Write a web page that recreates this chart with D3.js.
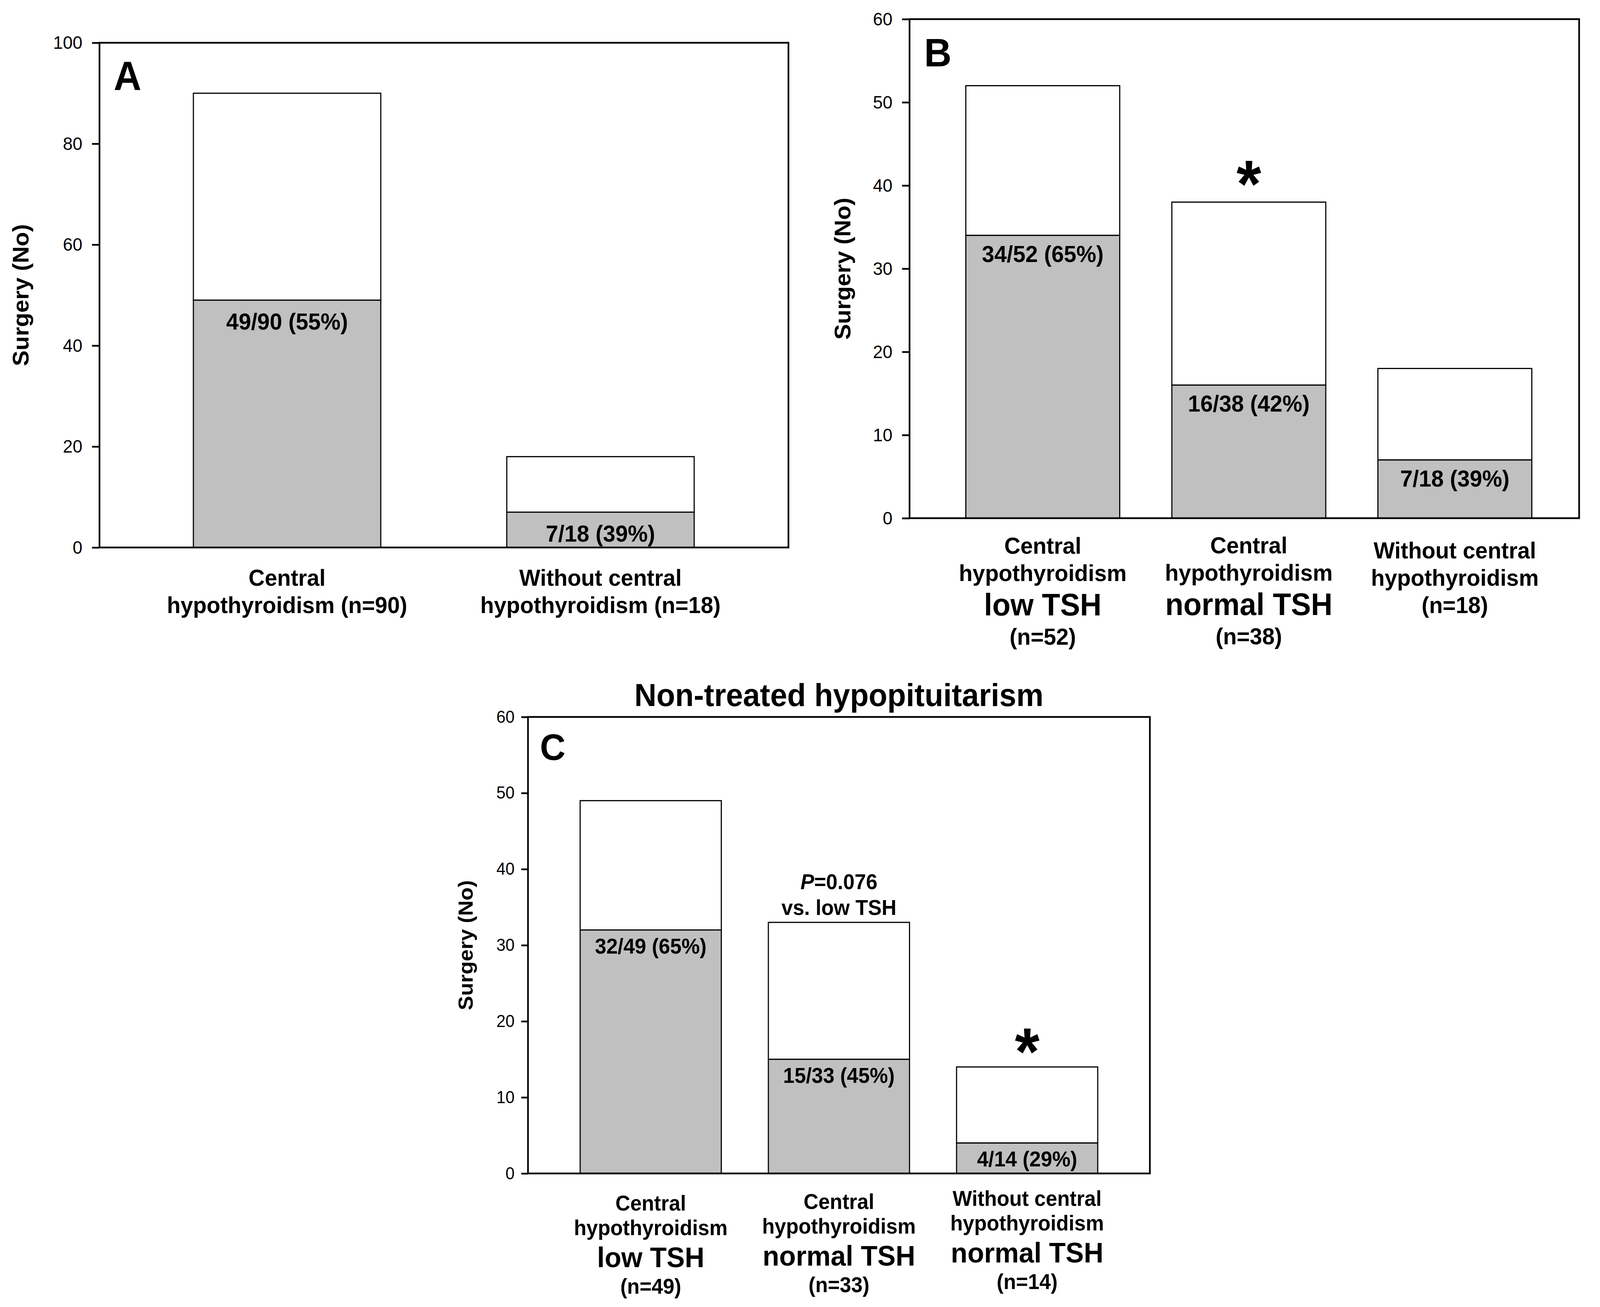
<!DOCTYPE html>
<html>
<head>
<meta charset="utf-8">
<script src="https://cdn.jsdelivr.net/npm/d3@7"></script>
<style>
  html, body { margin: 0; padding: 0; background: #ffffff; overflow: hidden; width: 100%; height: 100%; }
  svg { display: block; width: 100vw; height: 100vh; }
</style>
</head>
<body>
<script>
// ---------------- DATA ----------------
const catsA = [
  ["Central", "hypothyroidism (n=90)"],
  ["Without central", "hypothyroidism (n=18)"]
];
const totalA   = [90, 18];
const surgeryA = [49, 7];
const labelsA  = ["49/90 (55%)", "7/18 (39%)"];

const catsB = [
  ["Central", "hypothyroidism", "low TSH", "(n=52)"],
  ["Central", "hypothyroidism", "normal TSH", "(n=38)"],
  ["Without central", "hypothyroidism", "(n=18)"]
];
const totalB   = [52, 38, 18];
const surgeryB = [34, 16, 7];
const labelsB  = ["34/52 (65%)", "16/38 (42%)", "7/18 (39%)"];
const starB    = [false, true, false];

const catsC = [
  ["Central", "hypothyroidism", "low TSH", "(n=49)"],
  ["Central", "hypothyroidism", "normal TSH", "(n=33)"],
  ["Without central", "hypothyroidism", "normal TSH", "(n=14)"]
];
const totalC   = [49, 33, 14];
const surgeryC = [32, 15, 4];
const labelsC  = ["32/49 (65%)", "15/33 (45%)", "4/14 (29%)"];
const starC    = [false, false, true];
const noteC    = [null, ["P", "=0.076", "vs. low TSH"], null];

const ticksA = [0, 20, 40, 60, 80, 100];
const ticksB = [0, 10, 20, 30, 40, 50, 60];
const ticksC = [0, 10, 20, 30, 40, 50, 60];

const yTitle = "Surgery (No)";
const titleC = "Non-treated hypopituitarism";

// ---------------- LAYOUT ----------------
const W = 4294, H = 3347;
const FONT = "'Liberation Sans', Arial, Helvetica, sans-serif";
const GRAY = "#c0c0c0";

const svg = d3.select("body").append("svg")
  .attr("viewBox", `0 0 ${W} ${H}`)
  .attr("preserveAspectRatio", "none")
  .style("font-family", FONT);

svg.append("rect").attr("width", W).attr("height", H).attr("fill", "#fff");

function isBig(line) { return /TSH$/.test(line) && !/^vs\./.test(line); }

function drawPanel(p) {
  const g = svg.append("g");
  const y = d3.scaleLinear().domain([0, p.yMax]).range([p.y1, p.y0]);
  const x = d3.scaleBand().domain(d3.range(p.totals.length))
    .range(p.band).paddingInner(p.pi).paddingOuter(0);

  // bars
  p.totals.forEach((t, i) => {
    const s = p.surgery[i];
    g.append("rect")
      .attr("x", x(i)).attr("width", x.bandwidth())
      .attr("y", y(t)).attr("height", y(s) - y(t))
      .attr("fill", "#fff").attr("stroke", "#000").attr("stroke-width", p.barStroke);
    g.append("rect")
      .attr("x", x(i)).attr("width", x.bandwidth())
      .attr("y", y(s)).attr("height", y(0) - y(s))
      .attr("fill", GRAY).attr("stroke", "#000").attr("stroke-width", p.barStroke);
    g.append("text")
      .attr("x", x(i) + x.bandwidth() / 2)
      .attr("y", y(s) + p.labelDy)
      .attr("text-anchor", "middle")
      .attr("font-weight", "bold")
      .attr("font-size", p.labelSize)
      .text(p.labels[i]);
  });

  // frame
  g.append("rect")
    .attr("x", p.x0).attr("y", p.y0)
    .attr("width", p.x1 - p.x0).attr("height", p.y1 - p.y0)
    .attr("fill", "none").attr("stroke", "#000").attr("stroke-width", p.frameStroke);

  // y axis
  const ax = g.append("g")
    .attr("transform", `translate(${p.x0},0)`)
    .call(d3.axisLeft(y).tickValues(p.ticks).tickSize(p.tickSize).tickPadding(p.tickPad).tickFormat(d3.format("d")));
  ax.select(".domain").remove();
  ax.selectAll(".tick line").attr("stroke", "#000").attr("stroke-width", p.frameStroke);
  ax.selectAll(".tick text")
    .attr("font-family", FONT).attr("font-size", p.tickFont).attr("fill", "#000");

  // y title
  g.append("text")
    .attr("transform", `translate(${p.yTitleX},${(p.y0 + p.y1) / 2}) rotate(-90)`)
    .attr("text-anchor", "middle")
    .attr("font-weight", "bold")
    .attr("font-size", p.yTitleSize)
    .text(yTitle);

  // panel letter
  g.append("text")
    .attr("x", p.x0 + p.letterDx).attr("y", p.y0 + p.letterDy)
    .attr("font-weight", "bold").attr("font-size", p.letterSize)
    .text(p.letter);

  // category labels
  p.cats.forEach((lines, i) => {
    const cx = x(i) + x.bandwidth() / 2;
    let by = p.y1 + p.firstOffset[i];
    lines.forEach((line, k) => {
      if (k > 0) {
        const prevBig = isBig(lines[k - 1]);
        const curBig = isBig(line);
        by += curBig ? p.gapNB : (prevBig ? p.gapBN : p.gapNN);
      }
      g.append("text")
        .attr("x", cx).attr("y", by)
        .attr("text-anchor", "middle")
        .attr("font-weight", "bold")
        .attr("font-size", isBig(line) ? p.bigSize : p.catSize)
        .text(line);
    });
  });

  // significance stars
  if (p.stars) p.stars.forEach((st, i) => {
    if (!st) return;
    g.append("text")
      .attr("x", x(i) + x.bandwidth() / 2)
      .attr("y", y(p.totals[i]) + p.starDy)
      .attr("text-anchor", "middle")
      .attr("font-weight", "bold")
      .attr("font-size", p.starSize)
      .text("*");
  });

  // notes
  if (p.notes) p.notes.forEach((n, i) => {
    if (!n) return;
    const cx = x(i) + x.bandwidth() / 2;
    const top = y(p.totals[i]);
    const t1 = g.append("text")
      .attr("x", cx).attr("y", top - p.noteGap - p.noteLine)
      .attr("text-anchor", "middle")
      .attr("font-weight", "bold").attr("font-size", p.noteSize);
    t1.append("tspan").attr("font-style", "italic").text(n[0]);
    t1.append("tspan").text(n[1]);
    g.append("text")
      .attr("x", cx).attr("y", top - p.noteGap)
      .attr("text-anchor", "middle")
      .attr("font-weight", "bold").attr("font-size", p.noteSize)
      .text(n[2]);
  });

  if (p.title) {
    g.append("text")
      .attr("x", (p.x0 + p.x1) / 2).attr("y", p.titleY)
      .attr("text-anchor", "middle")
      .attr("font-weight", "bold").attr("font-size", p.titleSize)
      .text(p.title);
  }
}

drawPanel({
  x0: 267, x1: 2116, y0: 109.5, y1: 1402, yMax: 100, ticks: ticksA,
  band: [519, 1863], pi: 0.402,
  totals: totalA, surgery: surgeryA, labels: labelsA, cats: catsA,
  barStroke: 3, frameStroke: 4.5,
  tickSize: 20, tickPad: 26, tickFont: 47,
  yTitleX: 77, yTitleSize: 60,
  letter: "A", letterSize: 103, letterDx: 38, letterDy: 121,
  labelSize: 60, labelDy: 75,
  catSize: 60, bigSize: 80, firstOffset: [98, 98], gapNN: 70, gapNB: 88, gapBN: 75
});

drawPanel({
  x0: 2441, x1: 4238, y0: 49, y1: 1327, yMax: 60, ticks: ticksB,
  band: [2592, 4111], pi: 0.253,
  totals: totalB, surgery: surgeryB, labels: labelsB, cats: catsB,
  barStroke: 3, frameStroke: 4.5,
  tickSize: 20, tickPad: 26, tickFont: 47,
  yTitleX: 2282, yTitleSize: 60,
  letter: "B", letterSize: 102, letterDx: 39, letterDy: 121,
  labelSize: 60, labelDy: 68,
  catSize: 60, bigSize: 80, firstOffset: [91, 90, 103], gapNN: 70, gapNB: 88, gapBN: 75,
  stars: starB, starSize: 170, starDy: 12
});

drawPanel({
  x0: 1417, x1: 3086, y0: 1836, y1: 3005, yMax: 60, ticks: ticksC,
  band: [1557, 2946], pi: 0.25,
  totals: totalC, surgery: surgeryC, labels: labelsC, cats: catsC,
  barStroke: 3, frameStroke: 4.5,
  tickSize: 18, tickPad: 18, tickFont: 44,
  yTitleX: 1268, yTitleSize: 55,
  letter: "C", letterSize: 95, letterDx: 32, letterDy: 110,
  labelSize: 55, labelDy: 60,
  catSize: 55, bigSize: 73, firstOffset: [95, 91, 83], gapNN: 63, gapNB: 82, gapBN: 68,
  stars: starC, starSize: 170, starDy: 20,
  notes: noteC, noteSize: 55, noteGap: 19, noteLine: 66,
  title: titleC, titleY: 1808, titleSize: 82
});
</script>
</body>
</html>
